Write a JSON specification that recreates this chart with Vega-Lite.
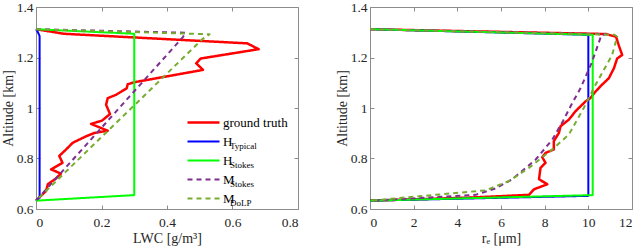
{
  "$schema": "https://vega.github.io/schema/vega-lite/v6.json",
  "background": "white",
  "padding": {"left": 0, "top": -1, "right": 0, "bottom": 0},
  "bounds": "flush",
  "spacing": 72,
  "config": {
    "font": "Liberation Serif",
    "view": {"stroke": "#8c8c8c", "strokeWidth": 1},
    "axis": {
      "grid": false, "domain": false, "tickColor": "#8c8c8c", "tickSize": -4,
      "labelFont": "Liberation Serif", "labelFontSize": 13.5, "labelColor": "#262626",
      "titleFont": "Liberation Serif", "titleFontSize": 14, "titleFontWeight": "normal", "titleColor": "#262626"
    }
  },
  "datasets": {
    "lwc": [
      {"s":"ground truth","u":"-","a":1.312,"v":0},
      {"s":"ground truth","u":"-","a":1.294,"v":0.085},
      {"s":"ground truth","u":"-","a":1.256,"v":0.645},
      {"s":"ground truth","u":"-","a":1.233,"v":0.68},
      {"s":"ground truth","u":"-","a":1.196,"v":0.503},
      {"s":"ground truth","u":"-","a":1.177,"v":0.489},
      {"s":"ground truth","u":"-","a":1.151,"v":0.51},
      {"s":"ground truth","u":"-","a":1.102,"v":0.30},
      {"s":"ground truth","u":"-","a":1.094,"v":0.28},
      {"s":"ground truth","u":"-","a":1.078,"v":0.277},
      {"s":"ground truth","u":"-","a":1.052,"v":0.244},
      {"s":"ground truth","u":"-","a":1.039,"v":0.219},
      {"s":"ground truth","u":"-","a":1.013,"v":0.214},
      {"s":"ground truth","u":"-","a":0.976,"v":0.226},
      {"s":"ground truth","u":"-","a":0.950,"v":0.2015},
      {"s":"ground truth","u":"-","a":0.937,"v":0.168},
      {"s":"ground truth","u":"-","a":0.910,"v":0.219},
      {"s":"ground truth","u":"-","a":0.901,"v":0.178},
      {"s":"ground truth","u":"-","a":0.888,"v":0.153},
      {"s":"ground truth","u":"-","a":0.862,"v":0.112},
      {"s":"ground truth","u":"-","a":0.836,"v":0.092},
      {"s":"ground truth","u":"-","a":0.810,"v":0.071},
      {"s":"ground truth","u":"-","a":0.783,"v":0.081},
      {"s":"ground truth","u":"-","a":0.757,"v":0.046},
      {"s":"ground truth","u":"-","a":0.740,"v":0.076},
      {"s":"ground truth","u":"-","a":0.720,"v":0.06},
      {"s":"ground truth","u":"-","a":0.698,"v":0.036},
      {"s":"ground truth","u":"-","a":0.672,"v":0.031},
      {"s":"ground truth","u":"-","a":0.645,"v":0.01},
      {"s":"ground truth","u":"-","a":0.633,"v":0},
      {"s":"H_Typical","u":"Typical","a":1.312,"v":0},
      {"s":"H_Typical","u":"Typical","a":1.300,"v":0.006},
      {"s":"H_Typical","u":"Typical","a":1.285,"v":0.011},
      {"s":"H_Typical","u":"Typical","a":0.645,"v":0.011},
      {"s":"H_Typical","u":"Typical","a":0.633,"v":0},
      {"s":"H_Stokes","u":"Stokes","a":1.312,"v":0},
      {"s":"H_Stokes","u":"Stokes","a":1.294,"v":0.3},
      {"s":"H_Stokes","u":"Stokes","a":0.655,"v":0.3},
      {"s":"H_Stokes","u":"Stokes","a":0.633,"v":0},
      {"s":"M_Stokes","u":"\u2004Stokes","a":1.312,"v":0},
      {"s":"M_Stokes","u":"\u2004Stokes","a":1.298,"v":0.457},
      {"s":"M_Stokes","u":"\u2004Stokes","a":1.280,"v":0.448},
      {"s":"M_Stokes","u":"\u2004Stokes","a":0.633,"v":0},
      {"s":"M_DoLP","u":"\u2004DoLP","a":1.312,"v":0},
      {"s":"M_DoLP","u":"\u2004DoLP","a":1.292,"v":0.53},
      {"s":"M_DoLP","u":"\u2004DoLP","a":1.275,"v":0.51},
      {"s":"M_DoLP","u":"\u2004DoLP","a":0.633,"v":0}
    ],
    "re": [
      {"s":"ground truth","a":1.312,"v":0},
      {"s":"ground truth","a":1.293,"v":10.8},
      {"s":"ground truth","a":1.282,"v":11.27},
      {"s":"ground truth","a":1.249,"v":11.39},
      {"s":"ground truth","a":1.210,"v":11.55},
      {"s":"ground truth","a":1.196,"v":11.32},
      {"s":"ground truth","a":1.157,"v":11.17},
      {"s":"ground truth","a":1.118,"v":10.94},
      {"s":"ground truth","a":1.090,"v":10.6},
      {"s":"ground truth","a":1.065,"v":10.33},
      {"s":"ground truth","a":1.040,"v":10.1},
      {"s":"ground truth","a":1.026,"v":9.87},
      {"s":"ground truth","a":0.987,"v":9.41},
      {"s":"ground truth","a":0.954,"v":9.11},
      {"s":"ground truth","a":0.928,"v":8.73},
      {"s":"ground truth","a":0.901,"v":8.65},
      {"s":"ground truth","a":0.869,"v":8.42},
      {"s":"ground truth","a":0.836,"v":8.42},
      {"s":"ground truth","a":0.822,"v":8.04},
      {"s":"ground truth","a":0.805,"v":7.89},
      {"s":"ground truth","a":0.783,"v":8.04},
      {"s":"ground truth","a":0.763,"v":7.81},
      {"s":"ground truth","a":0.718,"v":7.74},
      {"s":"ground truth","a":0.698,"v":8.12},
      {"s":"ground truth","a":0.678,"v":7.51},
      {"s":"ground truth","a":0.656,"v":7.28},
      {"s":"ground truth","a":0.645,"v":4.5},
      {"s":"ground truth","a":0.633,"v":0},
      {"s":"H_Typical","a":1.312,"v":0},
      {"s":"H_Typical","a":1.290,"v":10.0},
      {"s":"H_Typical","a":0.652,"v":10.0},
      {"s":"H_Typical","a":0.633,"v":0},
      {"s":"H_Stokes","a":1.312,"v":0},
      {"s":"H_Stokes","a":1.290,"v":10.2},
      {"s":"H_Stokes","a":0.655,"v":10.2},
      {"s":"H_Stokes","a":0.633,"v":0},
      {"s":"M_Stokes","a":1.312,"v":0},
      {"s":"M_Stokes","a":1.292,"v":10.8},
      {"s":"M_Stokes","a":1.289,"v":10.6},
      {"s":"M_Stokes","a":1.183,"v":10.17},
      {"s":"M_Stokes","a":1.078,"v":9.64},
      {"s":"M_Stokes","a":1.019,"v":9.26},
      {"s":"M_Stokes","a":0.950,"v":8.85},
      {"s":"M_Stokes","a":0.875,"v":8.35},
      {"s":"M_Stokes","a":0.796,"v":7.59},
      {"s":"M_Stokes","a":0.718,"v":6.52},
      {"s":"M_Stokes","a":0.682,"v":5.76},
      {"s":"M_Stokes","a":0.656,"v":4.84},
      {"s":"M_Stokes","a":0.633,"v":0},
      {"s":"M_DoLP","a":1.312,"v":0},
      {"s":"M_DoLP","a":1.290,"v":11.2},
      {"s":"M_DoLP","a":1.282,"v":11.32},
      {"s":"M_DoLP","a":1.210,"v":11.09},
      {"s":"M_DoLP","a":1.092,"v":10.33},
      {"s":"M_DoLP","a":1.000,"v":9.79},
      {"s":"M_DoLP","a":0.895,"v":9.11},
      {"s":"M_DoLP","a":0.836,"v":8.35},
      {"s":"M_DoLP","a":0.763,"v":7.28},
      {"s":"M_DoLP","a":0.711,"v":6.37},
      {"s":"M_DoLP","a":0.674,"v":5.30},
      {"s":"M_DoLP","a":0.633,"v":0}
    ]
  },
  "hconcat": [
    {
      "width": 262, "height": 202,
      "data": {"name": "lwc"},
      "layer": [
        {
          "mark": {"type": "line", "strokeJoin": "round"},
          "encoding": {
            "x": {"field": "v", "type": "quantitative", "scale": {"domain": [0, 0.8], "nice": false},
                  "axis": {"values": [0, 0.2, 0.4, 0.6, 0.8], "labelExpr": "'' + datum.value", "title": "LWC [g/m³]", "labelPadding": 10, "titlePadding": 3}},
            "y": {"field": "a", "type": "quantitative", "scale": {"domain": [0.6, 1.4], "nice": false, "zero": false},
                  "axis": {"values": [0.6, 0.8, 1, 1.2, 1.4], "labelExpr": "'' + datum.value", "title": "Altitude [km]", "labelPadding": 7, "titlePadding": 1}},
            "color": {"field": "s", "type": "nominal",
                      "scale": {"domain": ["ground truth", "H_Typical", "H_Stokes", "M_Stokes", "M_DoLP"], "range": ["#ff0000", "#0000ff", "#00ff00", "#7e2f8e", "#77ac30"]},
                      "legend": {"orient": "none", "legendX": 150, "legendY": 108, "title": null, "symbolType": "stroke", "symbolSize": 1024, "symbolStrokeWidth": 2, "labelExpr": "split(datum.label, '_')[0]", "labelFont": "Liberation Serif", "labelFontSize": 13, "labelColor": "#000000", "labelOffset": 2, "clipHeight": 15, "rowPadding": 4, "padding": 0}},
            "strokeDash": {"field": "s", "type": "nominal",
                      "scale": {"domain": ["ground truth", "H_Typical", "H_Stokes", "M_Stokes", "M_DoLP"], "range": [[1, 0], [1, 0], [1, 0], [5, 4], [5, 4]]},
                      "legend": {"orient": "none", "legendX": 150, "legendY": 108, "title": null, "symbolType": "stroke", "symbolSize": 1024, "symbolStrokeWidth": 2, "labelExpr": "split(datum.label, '_')[0]", "labelFont": "Liberation Serif", "labelFontSize": 13, "labelColor": "#000000", "labelOffset": 2, "clipHeight": 15, "rowPadding": 4, "padding": 0}},
            "strokeWidth": {"field": "s", "type": "nominal",
                      "scale": {"type": "ordinal", "domain": ["ground truth", "H_Typical", "H_Stokes", "M_Stokes", "M_DoLP"], "range": [2.5, 2, 2, 2, 2]}, "legend": null},
            "opacity": {"field": "u", "type": "nominal",
                      "scale": {"type": "ordinal", "domain": ["-", "Typical", "Stokes", "\u2004Stokes", "\u2004DoLP"], "range": [1, 1, 1, 1, 1]},
                      "legend": {"orient": "none", "legendX": 150, "legendY": 112.5, "title": null, "symbolType": "stroke", "symbolSize": 1024, "symbolStrokeWidth": 0, "symbolStrokeColor": "transparent", "labelExpr": "datum.label == '-' ? '' : datum.label", "labelFont": "Liberation Serif", "labelFontSize": 9, "labelColor": "#000000", "labelOffset": 12, "clipHeight": 15, "rowPadding": 4, "padding": 0}},
            "order": {"value": null}
          }
        },
        {
          "mark": {"type": "point", "opacity": 0},
          "encoding": {
            "x": {"field": "v", "type": "quantitative", "scale": {"domain": [0, 0.8], "nice": false},
                  "axis": {"orient": "top", "values": [0, 0.2, 0.4, 0.6, 0.8], "labels": false, "title": null}},
            "y": {"field": "a", "type": "quantitative", "scale": {"domain": [0.6, 1.4], "nice": false, "zero": false},
                  "axis": {"orient": "right", "values": [0.6, 0.8, 1, 1.2, 1.4], "labels": false, "title": null}}
          }
        }
      ],
      "resolve": {"axis": {"x": "independent", "y": "independent"}}
    },
    {
      "width": 262, "height": 202,
      "data": {"name": "re"},
      "layer": [
        {
          "mark": {"type": "line", "strokeJoin": "round"},
          "encoding": {
            "x": {"field": "v", "type": "quantitative", "scale": {"domain": [0, 12], "nice": false},
                  "axis": {"values": [0, 2, 4, 6, 8, 10, 12], "title": "rₑ [μm]", "labelPadding": 10, "titlePadding": 3}},
            "y": {"field": "a", "type": "quantitative", "scale": {"domain": [0.6, 1.4], "nice": false, "zero": false},
                  "axis": {"values": [0.6, 0.8, 1, 1.2, 1.4], "labelExpr": "'' + datum.value", "title": "Altitude [km]", "labelPadding": 7, "titlePadding": 1}},
            "color": {"field": "s", "type": "nominal",
                      "scale": {"domain": ["ground truth", "H_Typical", "H_Stokes", "M_Stokes", "M_DoLP"], "range": ["#ff0000", "#0000ff", "#00ff00", "#7e2f8e", "#77ac30"]}, "legend": null},
            "strokeDash": {"field": "s", "type": "nominal",
                      "scale": {"domain": ["ground truth", "H_Typical", "H_Stokes", "M_Stokes", "M_DoLP"], "range": [[1, 0], [1, 0], [1, 0], [5, 4], [5, 4]]}, "legend": null},
            "strokeWidth": {"field": "s", "type": "nominal",
                      "scale": {"type": "ordinal", "domain": ["ground truth", "H_Typical", "H_Stokes", "M_Stokes", "M_DoLP"], "range": [2.5, 2, 2, 2, 2]}, "legend": null},
            "order": {"value": null}
          }
        },
        {
          "mark": {"type": "point", "opacity": 0},
          "encoding": {
            "x": {"field": "v", "type": "quantitative", "scale": {"domain": [0, 12], "nice": false},
                  "axis": {"orient": "top", "values": [0, 2, 4, 6, 8, 10, 12], "labels": false, "title": null}},
            "y": {"field": "a", "type": "quantitative", "scale": {"domain": [0.6, 1.4], "nice": false, "zero": false},
                  "axis": {"orient": "right", "values": [0.6, 0.8, 1, 1.2, 1.4], "labels": false, "title": null}}
          }
        }
      ],
      "resolve": {"axis": {"x": "independent", "y": "independent"}}
    }
  ],
  "resolve": {"scale": {"color": "independent", "strokeDash": "independent", "strokeWidth": "independent", "opacity": "independent"}, "legend": {"color": "independent", "strokeDash": "independent", "opacity": "independent", "strokeWidth": "independent"}}
}
